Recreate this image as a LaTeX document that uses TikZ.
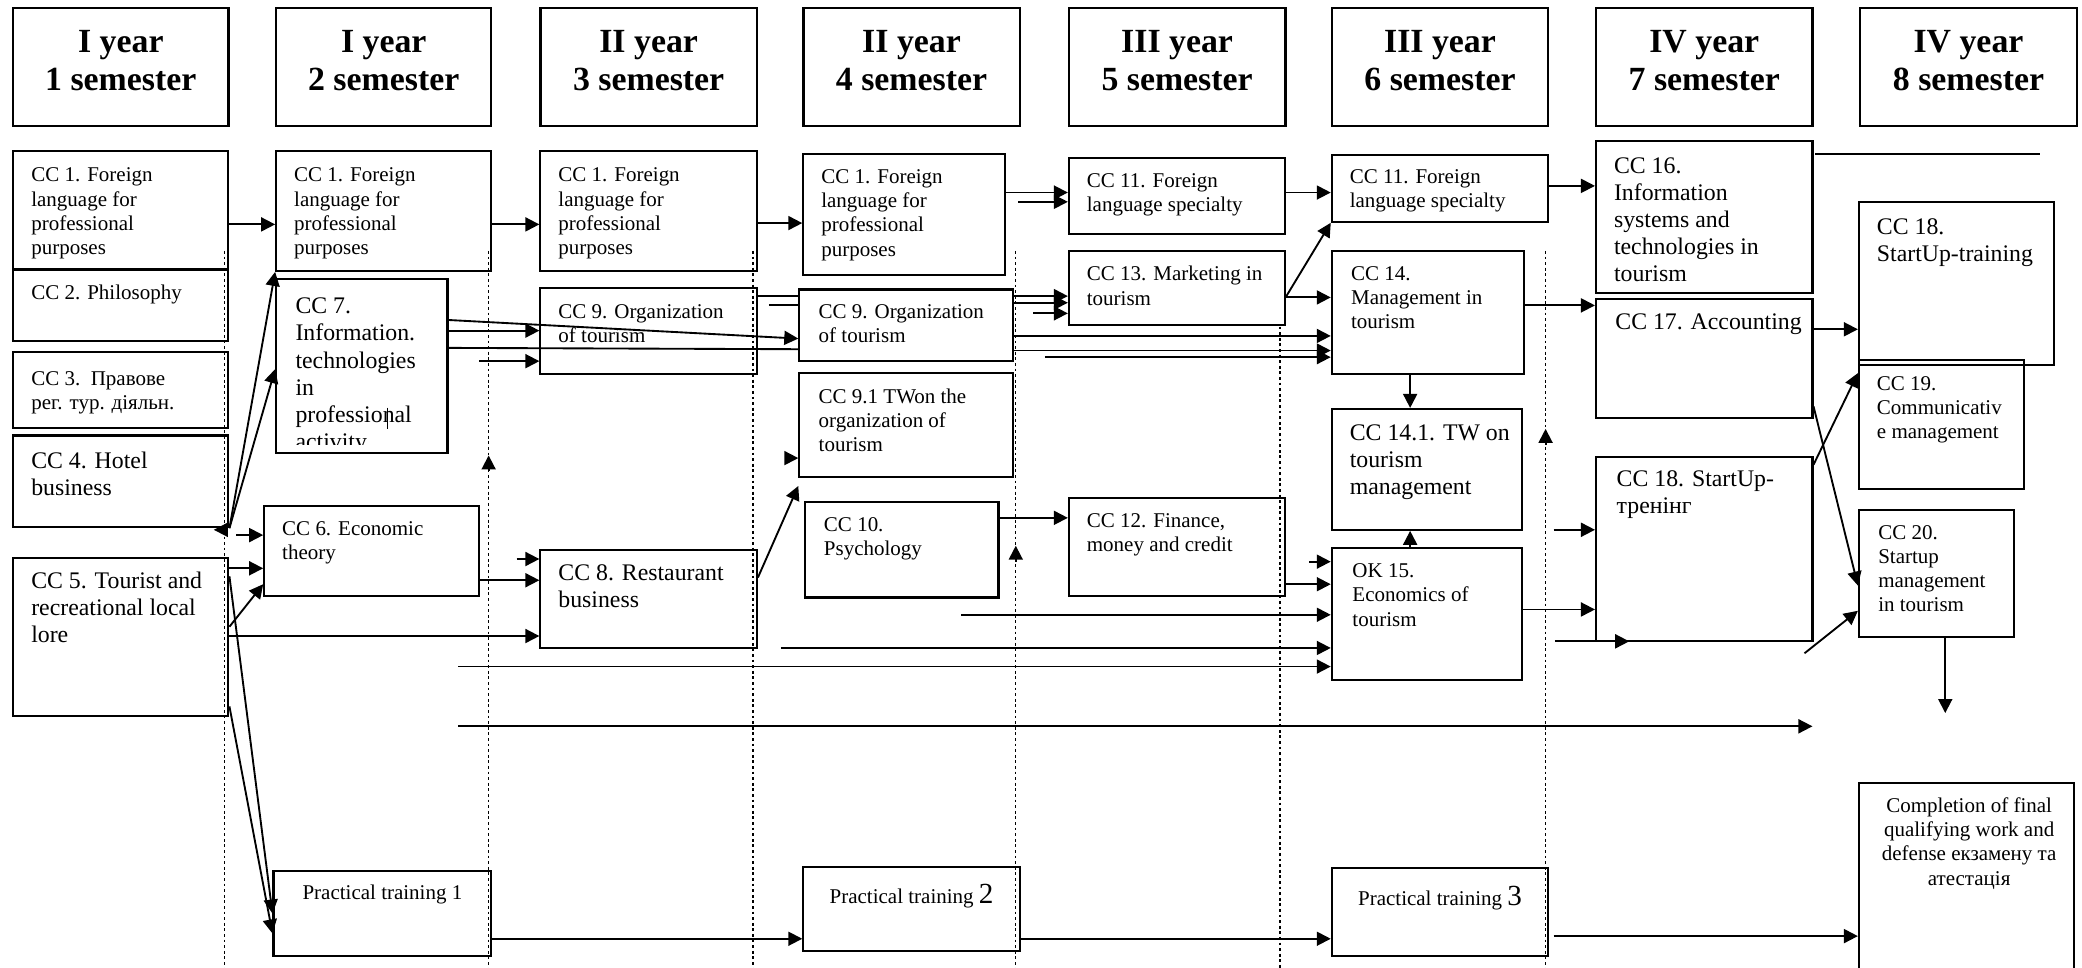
\documentclass[tikz,border=0pt]{standalone}
\usepackage{fontspec}
\setmainfont{Liberation Serif}
\usetikzlibrary{arrows.meta,fit}

\newcommand{\ccsmall}{\fontsize{9}{10.4}\selectfont}
\newcommand{\ccbig}{\fontsize{10.2}{11.6}\selectfont}
\newcommand{\semfont}{\fontsize{14.5}{16.3}\selectfont\bfseries}
\newcommand{\ptnum}[1]{{\fontsize{12.5}{12.5}\selectfont #1}}

\begin{document}
\begin{tikzpicture}[
          x=0.02cm, y=-0.02cm,
          semhead/.style={draw, line width=1pt, inner sep=0pt},
          semtext/.style={anchor=north, align=center, inner sep=0pt, font=\semfont},
          course/.style={draw, line width=0.9pt, inner sep=0pt},
          ctext/.style={anchor=north west, align=left, inner sep=0pt, font=\ccsmall},
          btext/.style={ctext, font=\ccbig},
          arrow/.style={-{Triangle[length=6pt,width=6pt]}, line width=0.8pt},
          plain/.style={line width=0.8pt},
          semline/.style={line width=0.6pt, dash pattern=on 1.2pt off 1.2pt}
        ]
          \useasboundingbox (0,0) rectangle (1568,729);

          % semester headers
          \node[semhead, fit={(10,6) (172,95)}] (sem1) {};
          \node[semtext] (sem1t) at ([shift={(0,17.5)}]sem1.north) {I year\\1 semester};
          \node[semhead, fit={(208,6) (370,95)}] (sem2) {};
          \node[semtext] (sem2t) at ([shift={(0,17.5)}]sem2.north) {I year\\2 semester};
          \node[semhead, fit={(407,6) (570,95)}] (sem3) {};
          \node[semtext] (sem3t) at ([shift={(0,17.5)}]sem3.north) {II year\\3 semester};
          \node[semhead, fit={(605,6) (768,95)}] (sem4) {};
          \node[semtext] (sem4t) at ([shift={(0,17.5)}]sem4.north) {II year\\4 semester};
          \node[semhead, fit={(805,6) (968,95)}] (sem5) {};
          \node[semtext] (sem5t) at ([shift={(0,17.5)}]sem5.north) {III year\\5 semester};
          \node[semhead, fit={(1003,6) (1166,95)}] (sem6) {};
          \node[semtext] (sem6t) at ([shift={(0,17.5)}]sem6.north) {III year\\6 semester};
          \node[semhead, fit={(1202,6) (1365,95)}] (sem7) {};
          \node[semtext] (sem7t) at ([shift={(0,17.5)}]sem7.north) {IV year\\7 semester};
          \node[semhead, fit={(1401,6) (1564,95)}] (sem8) {};
          \node[semtext] (sem8t) at ([shift={(0,17.5)}]sem8.north) {IV year\\8 semester};

          % semester dividers
          \draw[semline] (169,189) -- (169,729);
          \draw[semline] (368,189) -- (368,729);
          \draw[semline] (567,189) -- (567,729);
          \draw[semline] (765,189) -- (765,729);
          \draw[semline] (964,246) -- (964,729);
          \draw[semline] (1164,189) -- (1164,729);
          \draw[arrow] (171,399) -- (161,399);
          \draw[arrow] (368,355) -- (368,343);
          \draw[arrow] (765,423) -- (765,411);
          \draw[arrow] (1164,335) -- (1164,323);

          % 1 semester
          \node[course, fit={(10,114) (172,203)}] (cc1a) {};
          \node[ctext] (cc1a-t) at ([shift={(14,13)}]cc1a.north west) {CC 1. Foreign\\language for\\professional\\purposes};
          \node[course, fit={(10,203) (172,257)}] (cc2) {};
          \node[ctext] (cc2-t) at ([shift={(14,12)}]cc2.north west) {CC 2. Philosophy};
          \node[course, fit={(10,265) (172,322)}] (cc3) {};
          \node[ctext] (cc3-t) at ([shift={(14,15)}]cc3.north west) {CC 3.\ \ Правове\\рег. тур. діяльн.};
          \node[course, fit={(10,328) (172,397)}] (cc4) {};
          \node[btext] (cc4-t) at ([shift={(14,13)}]cc4.north west) {CC 4. Hotel\\business};
          \node[course, fit={(10,420) (172,539)}] (cc5) {};
          \node[btext] (cc5-t) at ([shift={(14,11)}]cc5.north west) {CC 5. Tourist and\\recreational local\\lore};

          % 2 semester
          \node[course, fit={(208,114) (370,204)}] (cc1b) {};
          \node[ctext] (cc1b-t) at ([shift={(14,13)}]cc1b.north west) {CC 1. Foreign\\language for\\professional\\purposes};
          \node[course, fit={(208,210) (337,341)}] (cc7) {};
          \begin{scope}
            \clip (cc7.north west) rectangle ([shift={(0,-7)}]cc7.south east);
            \node[btext] (cc7-t) at ([shift={(15,15)}]cc7.north west) {CC 7.\\Information.\\technologies\\in\\professional\\activity};
          \end{scope}
          \draw[line width=0.6pt] (292,307) -- (292,323);
          \node[course, fit={(199,381) (361,449)}] (cc6) {};
          \node[ctext] (cc6-t) at ([shift={(14,12)}]cc6.north west) {CC 6. Economic\\theory};
          \node[course, fit={(206,656) (370,720)}] (pt1) {};
          \node[ctext, anchor=north] (pt1-t) at ([shift={(0,11)}]pt1.north) {Practical training 1};

          % 3 semester
          \node[course, fit={(407,114) (570,204)}] (cc1c) {};
          \node[ctext] (cc1c-t) at ([shift={(14,13)}]cc1c.north west) {CC 1. Foreign\\language for\\professional\\purposes};
          \node[course, fit={(407,217) (570,282)}] (cc9a) {};
          \node[ctext] (cc9a-t) at ([shift={(14,13)}]cc9a.north west) {CC 9. Organization\\of tourism};
          \node[course, fit={(407,414) (570,488)}] (cc8) {};
          \node[btext] (cc8-t) at ([shift={(14,12)}]cc8.north west) {CC 8. Restaurant\\business};

          % 4 semester
          \node[course, fit={(605,116) (757,207)}] (cc1d) {};
          \node[ctext] (cc1d-t) at ([shift={(14,12)}]cc1d.north west) {CC 1. Foreign\\language for\\professional\\purposes};
          \node[course, fit={(602,218) (763,272)}] (cc9b) {};
          \node[ctext] (cc9b-t) at ([shift={(15,12)}]cc9b.north west) {CC 9. Organization\\of tourism};
          \node[course, fit={(602,281) (763,359)}] (cc91) {};
          \node[ctext] (cc91-t) at ([shift={(15,12)}]cc91.north west) {CC 9.1 TWon the\\organization of\\tourism};
          \node[course, fit={(606,378) (752,450)}] (cc10) {};
          \node[ctext] (cc10-t) at ([shift={(15,12)}]cc10.north west) {CC 10.\\Psychology};
          \node[course, fit={(605,653) (768,716)}] (pt2) {};
          \node[ctext, anchor=north] (pt2-t) at ([shift={(0,13)}]pt2.north) {Practical training \ptnum{2}};

          % 5 semester
          \node[course, fit={(805,119) (968,176)}] (cc11a) {};
          \node[ctext] (cc11a-t) at ([shift={(14,12)}]cc11a.north west) {CC 11. Foreign\\language specialty};
          \node[course, fit={(805,189) (968,245)}] (cc13) {};
          \node[ctext] (cc13-t) at ([shift={(14,12)}]cc13.north west) {CC 13. Marketing in\\tourism};
          \node[course, fit={(805,375) (968,449)}] (cc12) {};
          \node[ctext] (cc12-t) at ([shift={(14,12)}]cc12.north west) {CC 12. Finance,\\money and credit};

          % 6 semester
          \node[course, fit={(1003,117) (1166,167)}] (cc11b) {};
          \node[ctext] (cc11b-t) at ([shift={(14,11)}]cc11b.north west) {CC 11. Foreign\\language specialty};
          \node[course, fit={(1003,189) (1148,282)}] (cc14) {};
          \node[ctext] (cc14-t) at ([shift={(15,12)}]cc14.north west) {CC 14.\\Management in\\tourism};
          \node[course, fit={(1003,308) (1146,399)}] (cc141) {};
          \node[btext] (cc141-t) at ([shift={(14,12)}]cc141.north west) {CC 14.1. TW on\\tourism\\management};
          \node[course, fit={(1003,413) (1146,512)}] (ok15) {};
          \node[ctext] (ok15-t) at ([shift={(16,12)}]ok15.north west) {OK 15.\\Economics of\\tourism};
          \node[course, fit={(1003,654) (1166,720)}] (pt3) {};
          \node[ctext, anchor=north] (pt3-t) at ([shift={(0,14)}]pt3.north) {Practical training \ptnum{3}};

          % 7 semester
          \node[course, fit={(1202,106) (1365,221)}] (cc16) {};
          \node[btext] (cc16-t) at ([shift={(14,13)}]cc16.north west) {CC 16.\\Information\\systems and\\technologies in\\tourism};
          \node[course, fit={(1202,225) (1365,315)}] (cc17) {};
          \node[btext] (cc17-t) at ([shift={(15,12)}]cc17.north west) {CC 17. Accounting};
          \node[course, fit={(1202,344) (1365,483)}] (cc18a) {};
          \node[btext] (cc18a-t) at ([shift={(16,11)}]cc18a.north west) {CC 18. StartUp-\\тренінг};

          % 8 semester
          \node[course, fit={(1400,152) (1547,275)}] (cc18b) {};
          \node[btext] (cc18b-t) at ([shift={(14,13)}]cc18b.north west) {CC 18.\\StartUp-training};
          \node[course, fit={(1400,271) (1524,368)}] (cc19) {};
          \node[ctext] (cc19-t) at ([shift={(14,13)}]cc19.north west) {CC 19.\\Communicativ\\e management};
          \node[course, fit={(1400,384) (1517,480)}] (cc20) {};
          \node[ctext] (cc20-t) at ([shift={(15,12)}]cc20.north west) {CC 20.\\Startup\\management\\in tourism};
          \node[course, fit={(1400,590) (1562,745)}] (fin) {};
          \node[ctext, anchor=north, align=center] (fin-t) at ([shift={(2,11)}]fin.north) {Completion of final\\qualifying work and\\defense екзамену та\\атестація};

          % free ends
          \coordinate (fa) at (178,403);
          \coordinate (fb) at (361,272);
          \coordinate (fc) at (389,421);
          \coordinate (fd) at (345,502);
          \coordinate (fe) at (345,547);
          \coordinate (fe2) at (1365,547);
          \coordinate (ff) at (579,230);
          \coordinate (fg) at (594,345);
          \coordinate (fh) at (767,152);
          \coordinate (fi) at (778,236);
          \coordinate (fj) at (787,269);
          \coordinate (fk) at (724,463);
          \coordinate (fl) at (588,488);
          \coordinate (fm) at (986,423);
          \coordinate (fn) at (1170,399);
          \coordinate (fo) at (1171,483);
          \coordinate (fo2) at (1227,483);
          \coordinate (fp) at (1170,705);
          \coordinate (fq) at (1359,492);
          \coordinate (fr) at (1465,537);
          \coordinate (fs) at (1367,116);
          \coordinate (fs2) at (1536,116);

          % 1 -> 2 semester
          \draw[arrow] (cc1a.east |- 0,169) -- (cc1b.west |- 0,169);
          \draw[arrow] (cc4.south east) -- (cc1b.south west);
          \draw[arrow] (cc4.south east) -- (cc7.west |- 0,278);
          \draw[arrow] (fa) -- (cc6.west |- fa);
          \draw[arrow] (cc5.east |- 0,428) -- (cc6.west |- 0,428);
          \draw[arrow] (cc5.east |- 0,472) -- (cc6.west |- 0,440);
          \draw[arrow] (cc5.east |- 0,479) -- (cc8.west |- 0,479);
          \draw[arrow] (cc5.east |- 0,434) -- (pt1.west |- 0,688);
          \draw[arrow] (cc5.east |- 0,532) -- (pt1.west |- 0,703);

          % 2 -> 3 semester
          \draw[arrow] (cc1b.east |- 0,169) -- (cc1c.west |- 0,169);
          \draw[arrow] (cc7.east |- 0,241) -- (cc9b.west |- 0,255);
          \draw[arrow] (cc7.east |- 0,249) -- (cc9a.west |- 0,249);
          \draw[plain] (cc7.east |- 0,262) -- (cc9b.west |- 0,263);
          \draw[arrow] (fb) -- (cc9a.west |- fb);
          \draw[arrow] (cc6.east |- 0,437) -- (cc8.west |- 0,437);
          \draw[arrow] (fc) -- (cc8.west |- fc);
          \draw[arrow] (fd) -- (ok15.west |- fd);
          \draw[arrow] (fe) -- (fe2);
          \draw[arrow] (pt1.east |- 0,707) -- (pt2.west |- 0,707);

          % 3 -> 4 semester
          \draw[arrow] (cc1c.east |- 0,168) -- (cc1d.west |- 0,168);
          \draw[plain] (cc9a.east |- 0,223) -- (cc9b.west |- 0,223);
          \draw[plain] (ff) -- (cc9b.west |- ff);
          \draw[arrow] (cc8.east |- 0,435) -- (cc91.west |- 0,366);
          \draw[arrow] (fg) -- (cc91.west |- fg);

          % 4 -> 5 -> 6 semester
          \draw[arrow] (cc1d.east |- 0,145) -- (cc11a.west |- 0,145);
          \draw[arrow] (fh) -- (cc11a.west |- fh);
          \draw[arrow] (cc9b.east |- 0,223) -- (cc13.west |- 0,223);
          \draw[arrow] (cc9b.east |- 0,228) -- (cc13.west |- 0,228);
          \draw[arrow] (fi) -- (cc13.west |- fi);
          \draw[arrow] (cc9b.east |- 0,253) -- (cc14.west |- 0,253);
          \draw[arrow] (cc9b.east |- 0,264) -- (cc14.west |- 0,264);
          \draw[arrow] (fj) -- (cc14.west |- fj);
          \draw[arrow] (cc10.east |- 0,390) -- (cc12.west |- 0,390);
          \draw[arrow] (fk) -- (ok15.west |- fk);
          \draw[arrow] (fl) -- (ok15.west |- fl);
          \draw[arrow] (pt2.east |- 0,707) -- (pt3.west |- 0,707);
          \draw[arrow] (cc11a.east |- 0,145) -- (cc11b.west |- 0,145);
          \draw[arrow] (cc13.east |- 0,223) -- (cc11b.south west);
          \draw[arrow] (cc13.east |- 0,224) -- (cc14.west |- 0,224);
          \draw[arrow] (cc12.east |- 0,440) -- (ok15.west |- 0,440);
          \draw[arrow] (fm) -- (ok15.west |- fm);
          \draw[arrow] (cc14.south -| 1062,0) -- (cc141.north -| 1062,0);
          \draw[arrow] (ok15.north -| 1062,0) -- (cc141.south -| 1062,0);

          % 6 -> 7 -> 8 semester
          \draw[arrow] (cc11b.east |- 0,140) -- (cc16.west |- 0,140);
          \draw[arrow] (cc14.east |- 0,230) -- (cc17.west |- 0,230);
          \draw[arrow] (fn) -- (cc18a.west |- fn);
          \draw[arrow] (ok15.east |- 0,459) -- (cc18a.west |- 0,459);
          \draw[arrow] (fo) -- (fo2);
          \draw[arrow] (fp) -- (fin.west |- fp);
          \draw[arrow] (cc17.east |- 0,248) -- (cc18b.west |- 0,248);
          \draw[arrow] (cc18a.east |- 0,350) -- (cc19.west |- 0,281);
          \draw[arrow] (cc17.east |- 0,306) -- (cc20.west |- 0,441);
          \draw[arrow] (fq) -- (cc20.west |- 0,460);
          \draw[arrow] (cc20.south -| fr) -- (fr);
          \draw[plain] (fs) -- (fs2);

        \end{tikzpicture}
\end{document}
